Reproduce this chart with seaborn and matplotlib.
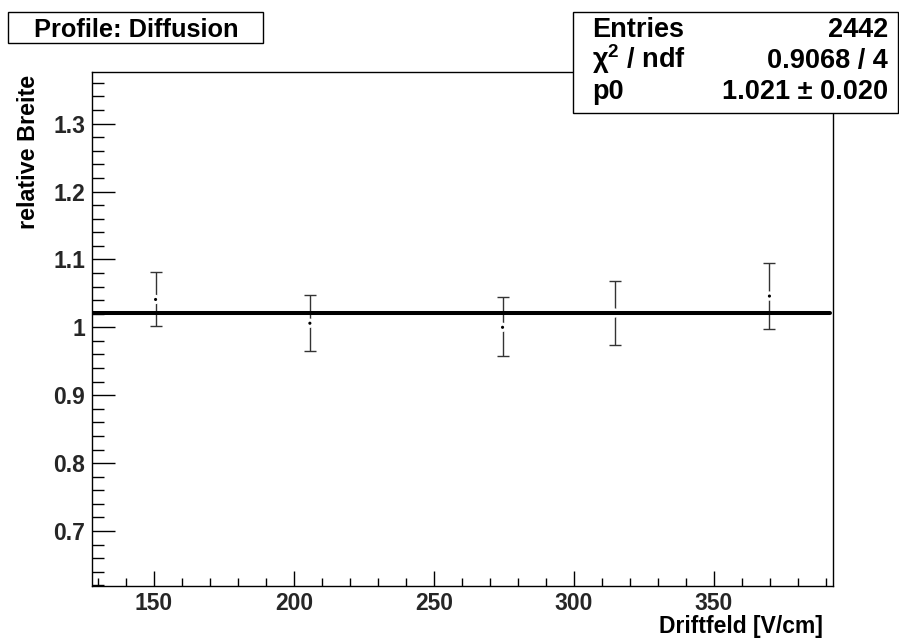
import numpy as np
import pandas as pd
import matplotlib
matplotlib.use("Agg")
import matplotlib.pyplot as plt
import seaborn as sns
from matplotlib.patches import Rectangle
from matplotlib.ticker import MultipleLocator, FuncFormatter

# ---- data ----
field = [150.6, 205.7, 274.5, 314.5, 369.8]          # Driftfeld [V/cm]
width = [1.041, 1.006, 1.000, 1.021, 1.046]          # relative Breite
err_lo = [0.039, 0.041, 0.042, 0.047, 0.048]
err_hi = [0.040, 0.042, 0.044, 0.047, 0.049]
fit_x = [128.0, 391.4]
fit_p0 = 1.021
title_text = "Profile: Diffusion"
stats_names = ["Entries", "χ$^{\\mathbf{2}}$ / ndf", "p0"]
stats_values = ["2442", "0.9068 / 4", "1.021 ± 0.020"]

df = pd.DataFrame({"x": field, "y": width})
fit_df = pd.DataFrame({"x": fit_x, "y": [fit_p0] * len(fit_x)})

sns.set_theme(style="white")
plt.rcParams["font.family"] = ["Liberation Sans", "DejaVu Sans"]
plt.rcParams["font.weight"] = "bold"
plt.rcParams["mathtext.fontset"] = "custom"
plt.rcParams["mathtext.rm"] = "Liberation Sans:bold"
plt.rcParams["mathtext.bf"] = "Liberation Sans:bold"
plt.rcParams["mathtext.it"] = "Liberation Sans:bold"

W, H = 899, 639
fig = plt.figure(figsize=(W / 100, H / 100), dpi=100)
fig.patch.set_facecolor("white")
L, R, T, B = 92, 833, 72, 586
ax = fig.add_axes([L / W, 1 - B / H, (R - L) / W, (B - T) / H])
ax.set_facecolor("white")

# error bars
ax.errorbar(df["x"], df["y"], yerr=[err_lo, err_hi], fmt="none",
            ecolor="#333333", elinewidth=1.0, capsize=4.3, capthick=1.0, zorder=2)
# gap around markers (ROOT style) and marker dots
sns.scatterplot(data=df, x="x", y="y", ax=ax, s=45, color="white",
                edgecolor="none", linewidth=0, zorder=3, legend=False)
sns.scatterplot(data=df, x="x", y="y", ax=ax, s=5, color="black",
                edgecolor="none", linewidth=0, zorder=4, legend=False)
# fit line
sns.lineplot(data=fit_df, x="x", y="y", ax=ax, color="black", linewidth=2.9,
             zorder=5, legend=False)

ax.set_xlim(127.9, 392.5)
ax.set_ylim(0.619, 1.376)

ax.xaxis.set_major_locator(MultipleLocator(50))
ax.xaxis.set_minor_locator(MultipleLocator(10))
ax.yaxis.set_major_locator(MultipleLocator(0.1))
ax.yaxis.set_minor_locator(MultipleLocator(0.02))
ax.yaxis.set_major_formatter(FuncFormatter(lambda v, p: "%g" % round(v, 3)))

ax.tick_params(axis="x", which="major", direction="in", length=10.8, width=1,
               color="black", labelsize=16.5, pad=4.3, bottom=True, top=False)
ax.tick_params(axis="x", which="minor", direction="in", length=5.5, width=1,
               color="black", bottom=True, top=False)
ax.tick_params(axis="y", which="major", direction="in", length=16.6, width=1,
               color="black", labelsize=16.5, pad=5, left=True, right=False)
ax.tick_params(axis="y", which="minor", direction="in", length=8.6, width=1,
               color="black", left=True, right=False)
for lab in ax.get_xticklabels() + ax.get_yticklabels():
    lab.set_fontweight("bold")

for s in ax.spines.values():
    s.set_visible(True)
    s.set_color("black")
    s.set_linewidth(1.0)

ax.set_xlabel("Driftfeld [V/cm]", fontsize=16.5, fontweight="bold",
              ha="right", va="baseline", color="black")
ax.xaxis.set_label_coords((823 - L) / (R - L), (B - 633) / (B - T))
ax.set_ylabel("relative Breite", fontsize=16.8, fontweight="bold",
              ha="right", va="center", rotation=90, rotation_mode="anchor",
              color="black")
ax.yaxis.set_label_coords((29 - L) / (R - L), (B - 75) / (B - T))

# title box
def px(x, y):
    return x / W, 1 - y / H

fig.patches.append(Rectangle(px(8, 43), (263 - 8) / W, (43 - 12) / H,
                             transform=fig.transFigure, facecolor="white",
                             edgecolor="black", linewidth=1.0, zorder=10))
fig.text(*px(136, 37), title_text, ha="center", va="baseline",
         fontsize=18.3, fontweight="bold", color="black", zorder=11)

# stats box
fig.patches.append(Rectangle(px(573, 113), (898 - 573) / W, (113 - 12) / H,
                             transform=fig.transFigure, facecolor="white",
                             edgecolor="black", linewidth=1.0, zorder=10))
rows_y = [37, 68, 99]
for name, val, yy in zip(stats_names, stats_values, rows_y):
    fig.text(*px(592, yy), name, ha="left", va="baseline", fontsize=19.5,
             fontweight="bold", color="black", zorder=11)
    fig.text(*px(888, yy), val, ha="right", va="baseline", fontsize=19.5,
             fontweight="bold", color="black", zorder=11)

fig.savefig("out.png", dpi=100)
